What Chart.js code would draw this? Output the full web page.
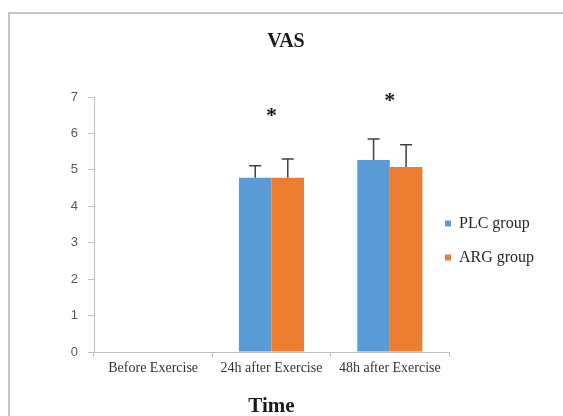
<!DOCTYPE html>
<html>
<head>
<meta charset="utf-8">
<script src="https://cdn.jsdelivr.net/npm/chart.js@4.4.1/dist/chart.umd.min.js"></script>
<style>
  html, body { margin: 0; padding: 0; background: #fff; }
  #wrap { width: 563px; height: 416px; }
</style>
</head>
<body>
<div id="wrap"><canvas id="vasChart" width="563" height="416"></canvas></div>
<script>
var timePoints = ['Before Exercise', '24h after Exercise', '48h after Exercise'];
var plcMean = [0, 4.78, 5.27];
var plcErr = [0, 0.33, 0.58];
var argMean = [0, 4.78, 5.08];
var argErr = [0, 0.52, 0.61];
var starText = ['', '*', '*'];
var starLevel = [null, 6.57, 6.98];

var serif = "'Liberation Serif', 'Times New Roman', serif";

// upward error bars from the error arrays
var errorBars = {
  id: 'errorBars',
  afterDatasetsDraw: function (chart) {
    var ctx = chart.ctx;
    var y = chart.scales.y;
    var errs = [plcErr, argErr];
    ctx.save();
    ctx.strokeStyle = '#404040';
    ctx.lineWidth = 1.5;
    chart.data.datasets.forEach(function (ds, di) {
      var meta = chart.getDatasetMeta(di);
      meta.data.forEach(function (bar, i) {
        var e = errs[di][i];
        if (!e) return;
        var top = y.getPixelForValue(ds.data[i] + e);
        ctx.beginPath();
        ctx.moveTo(bar.x, bar.y);
        ctx.lineTo(bar.x, top);
        ctx.moveTo(bar.x - 6, top);
        ctx.lineTo(bar.x + 6, top);
        ctx.stroke();
      });
    });
    ctx.restore();
  }
};

// significance stars above each time point
var stars = {
  id: 'stars',
  afterDatasetsDraw: function (chart) {
    var ctx = chart.ctx;
    ctx.save();
    ctx.fillStyle = '#1a1a1a';
    ctx.font = 'bold 22px ' + serif;
    ctx.textAlign = 'center';
    ctx.textBaseline = 'middle';
    starText.forEach(function (s, i) {
      if (!s) return;
      var px = chart.scales.x.getPixelForValue(i);
      var py = chart.scales.y.getPixelForValue(starLevel[i]);
      ctx.fillText(s, px, py + 4);
    });
    ctx.restore();
  }
};

// outer frame (top and left edges show in the picture)
var frame = {
  id: 'frame',
  beforeDraw: function (chart) {
    var ctx = chart.ctx;
    ctx.save();
    ctx.strokeStyle = '#c4c4c4';
    ctx.lineWidth = 2;
    ctx.beginPath();
    ctx.moveTo(9, chart.height);
    ctx.lineTo(9, 13);
    ctx.lineTo(chart.width, 13);
    ctx.stroke();
    ctx.restore();
  }
};

// nudge the legend to sit where it does in the original
var legendNudge = {
  id: 'legendNudge',
  afterLayout: function (chart) {
    var lg = chart.legend;
    lg.top += 16; lg.bottom += 16;
    lg.left -= 22; lg.right -= 22;
  }
};

new Chart(document.getElementById('vasChart'), {
  type: 'bar',
  data: {
    labels: timePoints,
    datasets: [{
      label: 'PLC group',
      data: plcMean,
      backgroundColor: '#5b9bd5',
      borderWidth: 0
    }, {
      label: 'ARG group',
      data: argMean,
      backgroundColor: '#ed7d31',
      borderWidth: 0
    }]
  },
  options: {
    responsive: false,
    animation: false,
    layout: { padding: { left: 9, right: 0, top: 0, bottom: 0 } },
    datasets: { bar: { categoryPercentage: 0.55, barPercentage: 1.0 } },
    plugins: {
      title: {
        display: true,
        text: 'VAS',
        color: '#1a1a1a',
        font: { family: serif, size: 20, weight: 'bold' },
        padding: { top: 30, bottom: 43 }
      },
      legend: {
        position: 'right',
        fullSize: false,
        maxWidth: 114,
        labels: {
          boxWidth: 6,
          boxHeight: 6,
          padding: 18,
          color: '#262626',
          font: { family: serif, size: 16 }
        }
      },
      tooltip: { enabled: false }
    },
    scales: {
      x: {
        afterFit: function (s) { s.height = 64; },
        grid: { display: true, drawOnChartArea: false, drawTicks: true, tickLength: 5, color: '#bfbfbf' },
        border: { color: '#bfbfbf', width: 1 },
        ticks: { color: '#333', padding: 3, font: { family: serif, size: 14 }, maxRotation: 0, autoSkip: false },
        title: {
          display: true,
          text: 'Time',
          color: '#1a1a1a',
          font: { family: serif, size: 21, weight: 'bold' },
          padding: { top: 0, bottom: -3 }
        }
      },
      y: {
        min: 0,
        max: 7,
        afterFit: function (s) { s.width = 85; },
        grid: { display: true, drawOnChartArea: false, drawTicks: true, tickLength: 6, color: '#bfbfbf' },
        border: { color: '#bfbfbf', width: 1 },
        ticks: { stepSize: 1, color: '#595959', padding: 10, font: { family: "'Liberation Sans', Arial, sans-serif", size: 13 } }
      }
    }
  },
  plugins: [frame, errorBars, stars, legendNudge]
});
</script>
</body>
</html>
